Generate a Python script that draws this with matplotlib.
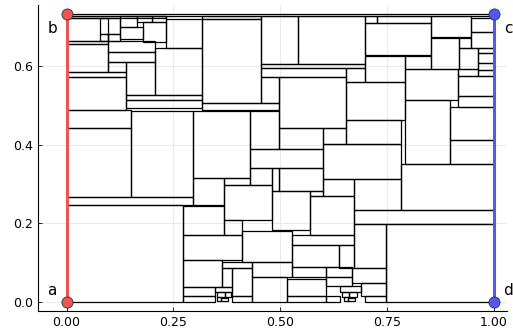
import matplotlib
matplotlib.use('Agg')
import matplotlib.pyplot as plt
from matplotlib.patches import Rectangle

H = 0.732

# rectangles: (left, right, bottom, top)
rects = [
    (0, 0.273, 0, 0.248), (0, 0.296, 0.248, 0.268), (0, 0.150, 0.268, 0.442),
    (0, 0.150, 0.442, 0.489), (0.150, 0.296, 0.268, 0.485), (0, 0.140, 0.489, 0.572),
    (0.140, 0.316, 0.493, 0.513), (0.140, 0.316, 0.513, 0.526), (0, 0.140, 0.572, 0.584),
    (0, 0.097, 0.584, 0.656), (0, 0.097, 0.656, 0.664), (0, 0.097, 0.664, 0.723),
    (0, 0.234, 0.723, 0.727), (0, 1.0, 0.727, 0.732), (0.078, 0.126, 0.680, 0.723),
    (0.078, 0.097, 0.664, 0.680), (0.097, 0.126, 0.664, 0.680), (0.126, 0.165, 0.700, 0.727),
    (0.126, 0.179, 0.668, 0.700), (0.165, 0.201, 0.711, 0.727), (0.201, 0.234, 0.711, 0.727),
    (0.179, 0.234, 0.660, 0.711), (0.234, 0.316, 0.646, 0.719), (0.097, 0.207, 0.635, 0.664),
    (0.097, 0.207, 0.611, 0.635), (0.097, 0.140, 0.584, 0.611), (0.140, 0.207, 0.526, 0.611),
    (0.207, 0.316, 0.526, 0.646), (0.316, 0.456, 0.506, 0.719), (0.316, 0.456, 0.719, 0.727),
    (0.316, 0.498, 0.489, 0.506), (0.456, 0.541, 0.605, 0.727), (0.541, 0.699, 0.605, 0.727),
    (0.456, 0.699, 0.595, 0.605), (0.456, 0.655, 0.571, 0.594), (0.456, 0.498, 0.506, 0.571),
    (0.498, 0.655, 0.442, 0.571), (0.655, 0.699, 0.560, 0.594), (0.699, 0.792, 0.560, 0.626),
    (0.655, 0.792, 0.463, 0.560), (0.699, 0.854, 0.628, 0.708), (0.699, 0.728, 0.708, 0.727),
    (0.728, 0.854, 0.708, 0.727), (0.792, 0.854, 0.592, 0.626), (0.792, 0.916, 0.513, 0.592),
    (0.854, 0.920, 0.592, 0.672), (0.854, 0.946, 0.674, 0.727), (0.920, 0.946, 0.645, 0.672),
    (0.920, 0.964, 0.592, 0.645), (0.946, 1.0, 0.686, 0.723), (0.946, 1.0, 0.645, 0.686),
    (0.964, 1.0, 0.633, 0.645), (0.964, 1.0, 0.607, 0.633), (0.964, 1.0, 0.590, 0.607),
    (0.964, 1.0, 0.574, 0.590), (0.916, 0.964, 0.574, 0.592), (0.916, 1.0, 0.523, 0.574),
    (0.916, 1.0, 0.496, 0.523), (0.898, 1.0, 0.412, 0.496), (0.898, 1.0, 0.352, 0.412),
    (0.792, 0.898, 0.352, 0.513), (0.655, 0.784, 0.402, 0.463), (0.784, 1.0, 0.234, 0.352),
    (0.672, 1.0, 0.198, 0.234), (0.749, 1.0, 0, 0.198), (0.601, 0.784, 0.312, 0.402),
    (0.601, 0.655, 0.402, 0.442), (0.498, 0.601, 0.390, 0.442), (0.429, 0.498, 0.390, 0.485),
    (0.429, 0.601, 0.340, 0.390), (0.296, 0.429, 0.316, 0.485), (0.296, 0.369, 0.248, 0.316),
    (0.273, 0.369, 0.170, 0.244), (0.369, 0.429, 0.297, 0.316), (0.429, 0.480, 0.297, 0.340),
    (0.480, 0.498, 0.283, 0.340), (0.498, 0.601, 0.282, 0.340), (0.369, 0.480, 0.208, 0.297),
    (0.480, 0.569, 0.184, 0.282), (0.601, 0.672, 0.269, 0.312), (0.569, 0.601, 0.269, 0.282),
    (0.569, 0.672, 0.170, 0.269), (0.672, 0.784, 0.234, 0.312), (0.672, 0.749, 0.086, 0.198),
    (0.369, 0.410, 0.170, 0.208), (0.410, 0.529, 0.102, 0.180), (0.529, 0.672, 0.145, 0.170),
    (0.529, 0.638, 0.090, 0.145), (0.638, 0.672, 0.086, 0.145), (0.273, 0.410, 0.107, 0.170),
    (0.273, 0.365, 0.039, 0.107), (0.365, 0.435, 0.086, 0.102), (0.388, 0.435, 0.015, 0.086),
    (0.365, 0.388, 0.039, 0.086), (0.435, 0.529, 0.065, 0.102), (0.435, 0.516, 0.0, 0.065),
    (0.529, 0.608, 0.065, 0.090), (0.516, 0.608, 0.015, 0.060), (0.608, 0.669, 0.065, 0.090),
    (0.608, 0.669, 0.040, 0.065), (0.669, 0.749, 0.048, 0.086), (0.690, 0.749, 0.015, 0.048),
    (0.273, 0.347, 0.015, 0.039), (0.273, 0.347, 0, 0.015), (0.388, 0.435, 0, 0.015),
    (0.516, 0.608, 0, 0.015), (0.608, 0.640, 0, 0.015), (0.699, 0.749, 0, 0.015),
    (0.347, 0.388, 0.026, 0.039), (0.352, 0.370, 0.012, 0.026), (0.370, 0.385, 0.012, 0.026),
    (0.352, 0.362, 0.002, 0.012), (0.362, 0.378, 0.002, 0.010),
    (0.640, 0.690, 0.026, 0.040), (0.645, 0.662, 0.012, 0.026), (0.662, 0.680, 0.012, 0.026),
    (0.650, 0.660, 0.002, 0.012), (0.660, 0.675, 0.002, 0.010),
]

point_labels = ['a', 'b', 'c', 'd']
point_x = [0, 0, 1, 1]
point_y = [0, H, H, 0]

fig = plt.figure(figsize=(5.13, 3.31), dpi=100)
ax = fig.add_axes([0.074, 0.061, 0.914, 0.923])

for l, r, b, t in rects:
    ax.add_patch(Rectangle((l, b), r - l, t - b, fill=False, edgecolor='black', lw=0.9, zorder=2))

ax.plot([0, 0], [0, H], '-', color='#ef5454', lw=2.2, zorder=3)
ax.plot([1, 1], [0, H], '-', color='#5656f0', lw=2.2, zorder=3)
ax.plot([0, 0], [0, H], 'o', color='#ef5454', ms=8, mec='#333333', mew=0.6, zorder=4)
ax.plot([1, 1], [0, H], 'o', color='#5656f0', ms=8, mec='#333333', mew=0.6, zorder=4)

for lab, px, py in zip(point_labels, point_x, point_y):
    dx = -0.034 if px == 0 else 0.034
    dy = 0.03 if py == 0 else -0.037
    ax.text(px + dx, py + dy, lab, fontsize=11, ha='center', va='center', zorder=5)

ax.set_xlim(-0.067, 1.031)
ax.set_ylim(-0.022, 0.754)
ax.set_xticks([0, 0.25, 0.5, 0.75, 1.0])
ax.set_xticklabels(['0.00', '0.25', '0.50', '0.75', '1.00'])
ax.set_yticks([0, 0.2, 0.4, 0.6])
ax.set_yticklabels(['0.0', '0.2', '0.4', '0.6'])
ax.tick_params(direction='in', length=3, labelsize=9, width=0.6)
ax.grid(True, color='#e6e6e6', lw=0.6, zorder=0)
ax.set_axisbelow(True)
ax.spines['top'].set_visible(False)
ax.spines['right'].set_visible(False)

fig.savefig('out.png', dpi=100)
